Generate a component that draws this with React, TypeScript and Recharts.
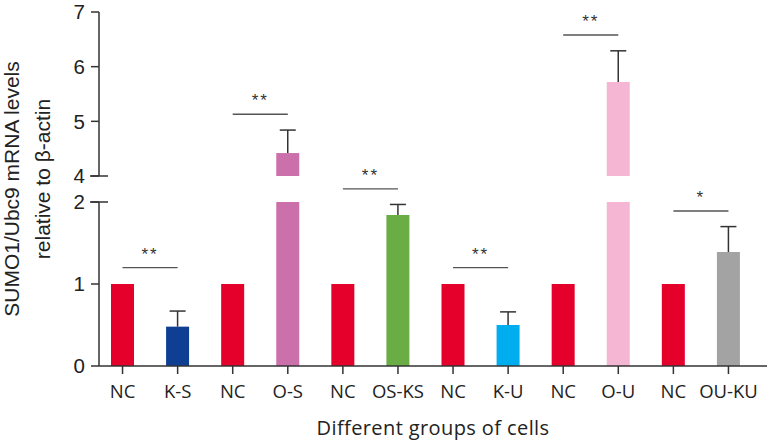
import React from 'react';
import { Bar, Cell, ComposedChart, ReferenceLine, XAxis, YAxis } from 'recharts';

// bar groups, left to right
const groups = ['NC', 'K-S', 'NC', 'O-S', 'NC', 'OS-KS', 'NC', 'K-U', 'NC', 'O-U', 'NC', 'OU-KU'];
const means = [1, 0.48, 1, 4.42, 1, 1.84, 1, 0.5, 1, 5.72, 1, 1.39];
const errors = [0, 0.19, 0, 0.42, 0, 0.13, 0, 0.16, 0, 0.57, 0, 0.31];

// significance brackets: NC vs the group right of it
const pairStarts = [0, 2, 4, 6, 8, 10];
const bracketLevels = [1.2, 5.13, 2.16, 1.2, 6.58, 1.89];
const bracketMarks = ['**', '**', '**', '**', '**', '*'];

const lowerTicks = [0, 1, 2];
const upperTicks = [4, 5, 6, 7];

const barColors = ['#E4002B', '#0E3F92', '#E4002B', '#CC70AC', '#E4002B', '#6AAD45', '#E4002B', '#00AEEF', '#E4002B', '#F4B6D3', '#E4002B', '#A3A3A3'];

const data = groups.map((name, i) => ({ id: `${name}-${i}`, name, mean: means[i], err: errors[i] }));

const W = 771;
const H = 441;
const AXIS = '#333';
const TICK_SIZE = 8;
const TICK_GAP = 6;
const sans = 'Arial, "Liberation Sans", sans-serif';
const human = '"Open Sans", "Noto Sans", sans-serif';

// upper part of the error bar, drawn as the stacked segment above the mean
const ErrorCap = (props: any) => {
  const { x, y, width, height } = props;
  if (!height || height <= 0) return null;
  const cx = x + width / 2;
  return (
    <g>
      <line x1={cx} x2={cx} y1={y} y2={y + height} stroke={AXIS} strokeWidth={1.5} />
      <line x1={cx - 8} x2={cx + 8} y1={y} y2={y} stroke={AXIS} strokeWidth={1.5} />
    </g>
  );
};

// y tick label, with the long crossing tick at the axis break
const makeYTick = (breakValue: number) => (props: any) => {
  const { x, y, payload } = props;
  const axisX = x + TICK_SIZE + TICK_GAP;
  return (
    <g>
      <text x={x} y={y} dy="0.36em" textAnchor="end" fontSize={20.5} fill="#222" fontFamily={sans}>
        {payload.value}
      </text>
      {payload.value === breakValue && (
        <line x1={axisX - 9} x2={axisX + 9} y1={y} y2={y} stroke={AXIS} strokeWidth={1.5} />
      )}
    </g>
  );
};

function brackets(keep: (level: number) => boolean) {
  return pairStarts.map((start, i) => {
    const level = bracketLevels[i];
    if (!keep(level)) return null;
    return (
      <ReferenceLine
        key={i}
        ifOverflow="visible"
        segment={[
          { x: data[start].id, y: level },
          { x: data[start + 1].id, y: level },
        ]}
        stroke="#555"
        strokeWidth={1.4}
        label={{ value: bracketMarks[i], position: 'top', offset: 8, fontSize: 17, fill: '#333', fontFamily: sans, letterSpacing: 2 }}
      />
    );
  });
}

export default function App() {
  const xPadding = { left: -4, right: 11 };
  const bars = [
    <Bar key="mean" dataKey="mean" stackId="s" barSize={23} isAnimationActive={false}>
      {data.map((d, i) => (
        <Cell key={d.id} fill={barColors[i]} />
      ))}
    </Bar>,
    <Bar key="err" dataKey="err" stackId="s" barSize={23} fill="none" shape={ErrorCap} isAnimationActive={false} />,
  ];

  return (
    <div style={{ position: 'absolute', left: 0, top: 0, width: W, height: H, background: '#fff' }}>
      {/* lower segment 0..2 with the category axis */}
      <div style={{ position: 'absolute', left: 0, top: 0 }}>
        <ComposedChart width={W} height={H} data={data} margin={{ top: 202, right: 4, bottom: 0, left: 0 }}>
          <XAxis
            dataKey="id"
            padding={xPadding}
            height={75}
            axisLine={{ stroke: AXIS, strokeWidth: 1.5 }}
            tickLine={{ stroke: AXIS, strokeWidth: 1.5 }}
            tickSize={8}
            tickMargin={11}
            interval={0}
            tick={{ fill: '#222', fontSize: 18.5, fontFamily: human }}
            tickFormatter={(_v: any, i: number) => groups[i]}
            label={{ value: 'Different groups of cells', position: 'insideBottom', offset: 6, fontSize: 20, fill: '#222', fontFamily: human, letterSpacing: 0.4 }}
          />
          <YAxis
            type="number"
            width={99}
            domain={[0, 2]}
            ticks={lowerTicks}
            allowDataOverflow
            axisLine={{ stroke: AXIS, strokeWidth: 1.5 }}
            tickLine={{ stroke: AXIS, strokeWidth: 1.5 }}
            tickSize={TICK_SIZE}
            tickMargin={TICK_GAP}
            tick={makeYTick(2)}
          />
          {bars}
          {brackets((l) => l < 4)}
        </ComposedChart>
      </div>
      {/* upper segment 4..7 */}
      <div style={{ position: 'absolute', left: 0, top: 0 }}>
        <ComposedChart width={W} height={H} data={data} margin={{ top: 12, right: 4, bottom: H - 176, left: 0 }}>
          <XAxis dataKey="id" padding={xPadding} hide />
          <YAxis
            type="number"
            width={99}
            domain={[4, 7]}
            ticks={upperTicks}
            allowDataOverflow
            axisLine={{ stroke: AXIS, strokeWidth: 1.5 }}
            tickLine={{ stroke: AXIS, strokeWidth: 1.5 }}
            tickSize={TICK_SIZE}
            tickMargin={TICK_GAP}
            tick={makeYTick(4)}
          />
          {bars}
          {brackets((l) => l >= 4)}
        </ComposedChart>
      </div>
      <svg width={W} height={H} style={{ position: 'absolute', left: 0, top: 0, pointerEvents: 'none' }}>
        <text transform="translate(19,189) rotate(-90)" textAnchor="middle" fontSize={21} fill="#222" fontFamily={sans}>
          SUMO1/Ubc9 mRNA levels
        </text>
        <text transform="translate(50,179) rotate(-90)" textAnchor="middle" fontSize={21} fill="#222" fontFamily={sans}>
          relative to β-actin
        </text>
      </svg>
    </div>
  );
}
